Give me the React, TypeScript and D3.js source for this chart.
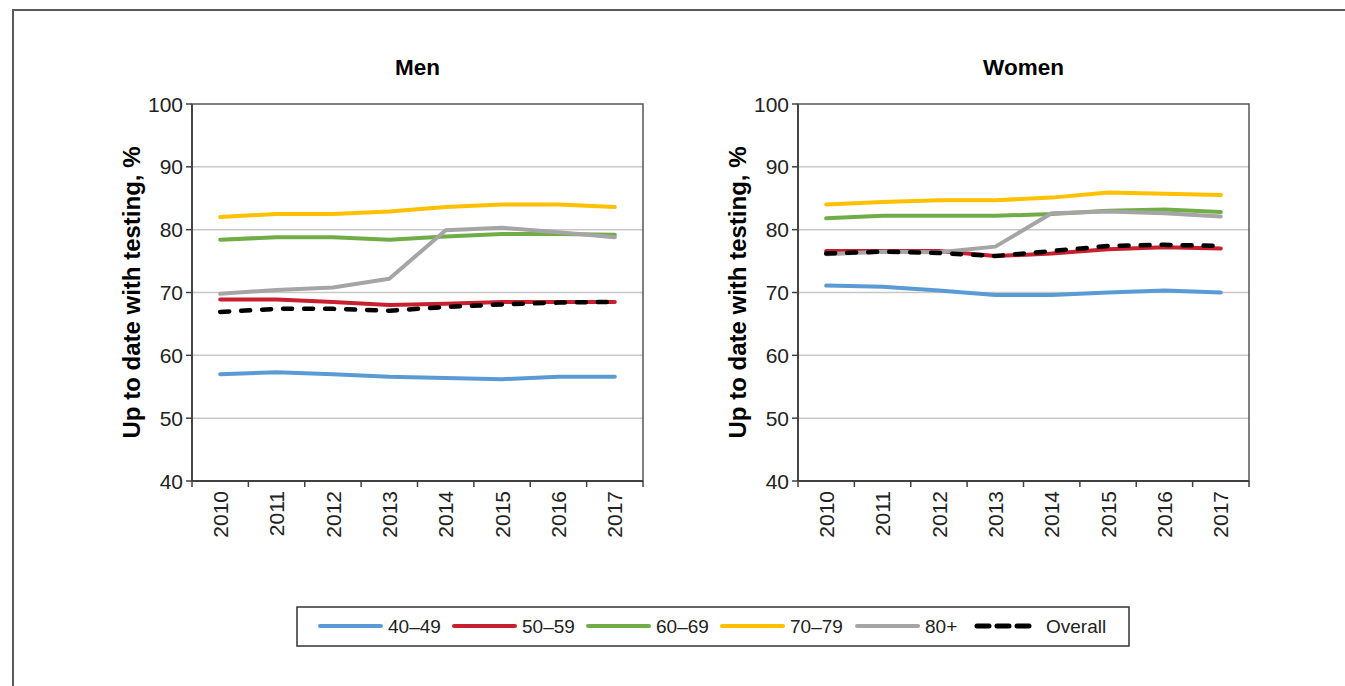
import React from "react";
import * as d3 from "d3";

const years = ["2010", "2011", "2012", "2013", "2014", "2015", "2016", "2017"];
const yTicks = [40, 50, 60, 70, 80, 90, 100];

const seriesNames = ["40–49", "50–59", "60–69", "70–79", "80+", "Overall"];
const seriesColors = ["#5b9bd5", "#c9202f", "#70ad47", "#ffc000", "#a5a5a5", "#000000"];

const men4049 = [57.0, 57.3, 57.0, 56.6, 56.4, 56.2, 56.6, 56.6];
const men5059 = [68.9, 68.9, 68.5, 68.0, 68.2, 68.5, 68.5, 68.5];
const men6069 = [78.4, 78.8, 78.8, 78.4, 78.9, 79.3, 79.3, 79.2];
const men7079 = [82.0, 82.5, 82.5, 82.9, 83.6, 84.0, 84.0, 83.6];
const men80 = [69.8, 70.4, 70.8, 72.2, 79.9, 80.3, 79.6, 78.8];
const menOverall = [66.9, 67.4, 67.4, 67.1, 67.7, 68.1, 68.4, 68.5];

const women4049 = [71.1, 70.9, 70.3, 69.6, 69.6, 70.0, 70.3, 70.0];
const women5059 = [76.6, 76.6, 76.6, 75.8, 76.2, 76.9, 77.2, 77.0];
const women6069 = [81.8, 82.2, 82.2, 82.2, 82.5, 83.0, 83.2, 82.8];
const women7079 = [84.0, 84.4, 84.7, 84.7, 85.1, 85.9, 85.7, 85.5];
const women80 = [76.1, 76.5, 76.4, 77.3, 82.6, 82.9, 82.6, 82.1];
const womenOverall = [76.2, 76.5, 76.3, 75.8, 76.6, 77.4, 77.6, 77.4];

const menSeries = [men4049, men5059, men6069, men7079, men80, menOverall];
const womenSeries = [women4049, women5059, women6069, women7079, women80, womenOverall];

const FONT = "'Liberation Sans', Arial, Helvetica, sans-serif";

function Panel({ title, left, series }: { title: string; left: number; series: number[][] }) {
  const top = 104;
  const bottom = 481;
  const width = 451;
  const x = d3.scaleBand().domain(years).range([left, left + width]);
  const y = d3.scaleLinear().domain([40, 100]).range([bottom, top]);
  const line = d3
    .line<number>()
    .x((_, i) => (x(years[i]) as number) + x.bandwidth() / 2)
    .y((v) => y(v));
  const boundaries = years.map((yr) => x(yr) as number).concat([left + width]);
  return (
    <g>
      <text x={left + width / 2} y={75} textAnchor="middle" fontFamily={FONT} fontSize={22.5} fontWeight="bold" fill="#000">
        {title}
      </text>
      {yTicks.slice(1, -1).map((t) => (
        <line key={t} x1={left} x2={left + width} y1={y(t)} y2={y(t)} stroke="#c8c8c8" strokeWidth={1.5} />
      ))}
      <rect x={left} y={top} width={width} height={bottom - top} fill="none" stroke="#555" strokeWidth={1.5} />
      <line x1={left} x2={left} y1={top} y2={bottom} stroke="#404040" strokeWidth={1.8} />
      <line x1={left} x2={left + width} y1={bottom} y2={bottom} stroke="#404040" strokeWidth={1.8} />
      {yTicks.map((t) => (
        <g key={t}>
          <line x1={left - 6} x2={left} y1={y(t)} y2={y(t)} stroke="#404040" strokeWidth={1.5} />
          <text x={left - 9} y={y(t)} dy="0.36em" textAnchor="end" fontFamily={FONT} fontSize={21} fill="#222">
            {t}
          </text>
        </g>
      ))}
      {boundaries.map((b, i) => (
        <line key={i} x1={b} x2={b} y1={bottom} y2={bottom + 6} stroke="#404040" strokeWidth={1.5} />
      ))}
      {years.map((yr) => {
        const cx = (x(yr) as number) + x.bandwidth() / 2;
        return (
          <text
            key={yr}
            transform={`translate(${cx},${491}) rotate(-90)`}
            dy="0.36em"
            textAnchor="end"
            fontFamily={FONT}
            fontSize={21}
            fill="#222"
          >
            {yr}
          </text>
        );
      })}
      <text
        transform={`translate(${left - 61},${(top + bottom) / 2}) rotate(-90)`}
        textAnchor="middle"
        dy="0.36em"
        fontFamily={FONT}
        fontSize={24}
        fontWeight="bold"
        fill="#000"
      >
        Up to date with testing, %
      </text>
      {series.map((s, i) => (
        <path
          key={i}
          d={line(s) || ""}
          fill="none"
          stroke={seriesColors[i]}
          strokeWidth={i === 5 ? 4.5 : 4}
          strokeDasharray={i === 5 ? "9 12" : undefined}
          strokeLinecap="round"
          strokeLinejoin="round"
        />
      ))}
    </g>
  );
}

const legendLineStarts = [320, 454, 588, 722, 857, 977];

function Legend() {
  const cy = 626;
  return (
    <g>
      <rect x={297} y={607} width={832} height={39} fill="#fff" stroke="#333" strokeWidth={1.5} />
      {seriesNames.map((n, i) => {
        const x0 = legendLineStarts[i];
        const isDash = i === 5;
        return (
          <g key={n}>
            <line
              x1={x0}
              x2={x0 + (isDash ? 56 : 61)}
              y1={cy}
              y2={cy}
              stroke={seriesColors[i]}
              strokeWidth={isDash ? 5 : 4}
              strokeLinecap="round"
              strokeDasharray={isDash ? "12 8" : undefined}
            />
            <text x={x0 + (isDash ? 69 : 68)} y={cy} dy="0.36em" fontFamily={FONT} fontSize={19} fill="#222">
              {n}
            </text>
          </g>
        );
      })}
    </g>
  );
}

export default function App() {
  return (
    <svg width={1345} height={686} style={{ position: "absolute", left: 0, top: 0, background: "#fff" }}>
      <rect x={0} y={0} width={1345} height={686} fill="#fff" />
      <path d="M13,686 V10 H1345" fill="none" stroke="#5a5a5a" strokeWidth={2} />
      <Panel title="Men" left={192} series={menSeries} />
      <Panel title="Women" left={798} series={womenSeries} />
      <Legend />
    </svg>
  );
}
